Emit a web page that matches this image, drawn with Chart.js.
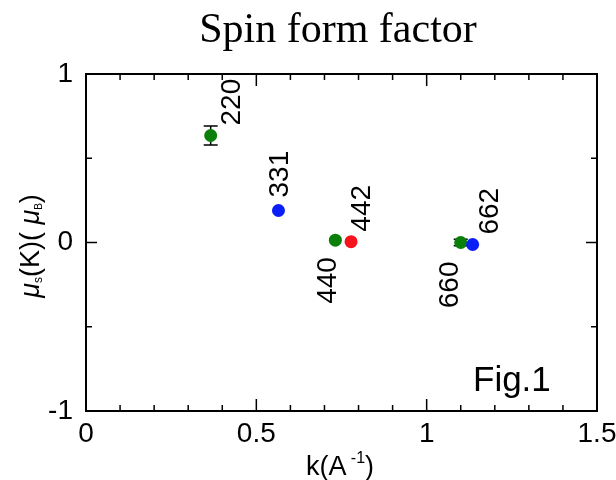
<!DOCTYPE html>
<html lang="en">

<head>
    <meta charset="UTF-8">
    <title>Spin form factor</title>
    <script src="https://cdn.jsdelivr.net/npm/chart.js"></script>
    <style>
        html, body { margin: 0; padding: 0; background: #fff; }
        #holder { width: 616px; height: 480px; position: relative; }
    </style>
</head>

<body>
    <div id="holder">
        <canvas id="chart1"></canvas>
    </div>

    <script>
        // Data
        const kValues = [0.366, 0.565, 0.732, 0.778, 1.100, 1.135];
        const muValues = [0.635, 0.19, 0.014, 0.005, 0.0, -0.012];
        const muErrors = [0.057, 0, 0, 0, 0.02, 0];
        const reflections = ['220', '331', '440', '442', '660', '662'];
        const pointColors = ['#0a7f0a', '#0a1ef5', '#0a7f0a', '#f5141e', '#0a7f0a', '#0a1ef5'];
        const xTickLabels = ['0', '0.5', '1', '1.5'];
        const yTickLabels = ['-1', '0', '1'];

        // label placement: dx = centre offset in px, gap = distance of the near end from the point
        const labelPlace = [
            { dx: 19, gap: 10, above: true },
            { dx: 0, gap: 13, above: true },
            { dx: -9, gap: 17, above: false },
            { dx: 9, gap: 10, above: true },
            { dx: -13, gap: 19, above: false },
            { dx: 15, gap: 10, above: true }
        ];

        const sans = '"Liberation Sans", Arial, Helvetica, sans-serif';
        const serif = '"Liberation Serif", "Times New Roman", serif';

        // draw text made of runs: [text, font, yShift]
        function runsWidth(ctx, runs) {
            let w = 0;
            runs.forEach(r => { ctx.font = r[1]; w += ctx.measureText(r[0]).width; });
            return w;
        }
        function drawRuns(ctx, runs, x, y) {
            let cx = x;
            runs.forEach(r => {
                ctx.font = r[1];
                ctx.fillText(r[0], cx, y + r[2]);
                cx += ctx.measureText(r[0]).width;
            });
        }

        // error bars behind points
        const errorBars = {
            id: 'errorBars',
            beforeDatasetsDraw(chart) {
                const ctx = chart.ctx;
                const xs = chart.scales.x, ys = chart.scales.y;
                ctx.save();
                ctx.strokeStyle = '#000';
                ctx.lineWidth = 1.5;
                kValues.forEach((k, i) => {
                    if (!muErrors[i]) return;
                    const px = xs.getPixelForValue(k);
                    const y1 = ys.getPixelForValue(muValues[i] + muErrors[i]);
                    const y2 = ys.getPixelForValue(muValues[i] - muErrors[i]);
                    ctx.beginPath();
                    ctx.moveTo(px, y1); ctx.lineTo(px, y2);
                    ctx.moveTo(px - 7, y1); ctx.lineTo(px + 7, y1);
                    ctx.moveTo(px - 7, y2); ctx.lineTo(px + 7, y2);
                    ctx.stroke();
                });
                ctx.restore();
            }
        };

        // frame, inward ticks, titles, labels
        const decorations = {
            id: 'decorations',
            afterDraw(chart) {
                const ctx = chart.ctx;
                const a = chart.chartArea;
                const xs = chart.scales.x, ys = chart.scales.y;
                ctx.save();
                ctx.strokeStyle = '#000';
                ctx.lineWidth = 2;
                ctx.strokeRect(a.left, a.top, a.right - a.left, a.bottom - a.top);

                ctx.lineWidth = 1.5;
                ctx.beginPath();
                for (let i = 0; i <= 15; i++) {
                    const px = xs.getPixelForValue(i / 10);
                    const len = (i % 5 === 0) ? 12 : 6;
                    ctx.moveTo(px, a.bottom); ctx.lineTo(px, a.bottom - len);
                    ctx.moveTo(px, a.top); ctx.lineTo(px, a.top + len);
                }
                for (let j = -2; j <= 2; j++) {
                    const py = ys.getPixelForValue(j / 2);
                    const len = (j % 2 === 0) ? 11 : 6;
                    ctx.moveTo(a.left, py); ctx.lineTo(a.left + len, py);
                    ctx.moveTo(a.right, py); ctx.lineTo(a.right - len, py);
                }
                ctx.stroke();

                ctx.fillStyle = '#000';
                ctx.textBaseline = 'alphabetic';

                // title
                ctx.font = '42px ' + serif;
                ctx.textAlign = 'center';
                ctx.fillText('Spin form factor', 338, 42);

                // Fig.1
                ctx.font = '35px ' + sans;
                ctx.textAlign = 'left';
                ctx.fillText('Fig.1', 473, 391);

                // x axis title  k(A^-1)
                const xr = [
                    ['k(A', '27px ' + sans, 0],
                    [' -1', '16px ' + sans, -12],
                    [')', '27px ' + sans, 0]
                ];
                ctx.textAlign = 'left';
                drawRuns(ctx, xr, 340 - runsWidth(ctx, xr) / 2, 475);

                // y axis title  mu_s(K)( mu_B)
                const yr = [
                    ['\u03bc', 'italic 27px ' + sans, 0],
                    ['s', '12px ' + sans, 3],
                    ['(K)( ', '27px ' + sans, 0],
                    ['\u03bc', 'italic 27px ' + sans, 0],
                    ['B', '10px ' + sans, 3],
                    [')', '27px ' + sans, 0]
                ];
                ctx.save();
                ctx.translate(39, 246);
                ctx.rotate(-Math.PI / 2);
                drawRuns(ctx, yr, -runsWidth(ctx, yr) / 2, 0);
                ctx.restore();

                // reflection labels, rotated (read bottom to top)
                ctx.font = '28px ' + sans;
                ctx.textBaseline = 'alphabetic';
                reflections.forEach((lab, i) => {
                    const p = labelPlace[i];
                    const px = xs.getPixelForValue(kValues[i]) + p.dx;
                    const py = ys.getPixelForValue(muValues[i]) + (p.above ? -p.gap : p.gap);
                    ctx.save();
                    ctx.translate(px, py);
                    ctx.rotate(-Math.PI / 2);
                    ctx.textAlign = p.above ? 'left' : 'right';
                    ctx.fillText(lab, 0, 10);
                    ctx.restore();
                });
                ctx.restore();
            }
        };

        const canvas1 = document.getElementById('chart1');
        const chart1 = new Chart(canvas1.getContext('2d'), {
            type: 'scatter',
            data: {
                datasets: [{
                    data: kValues.map((k, i) => ({ x: k, y: muValues[i] })),
                    pointBackgroundColor: pointColors,
                    pointBorderColor: pointColors,
                    pointBorderWidth: 0,
                    pointRadius: 6.5,
                    pointHoverRadius: 6.5
                }]
            },
            options: {
                responsive: true,
                maintainAspectRatio: false,
                animation: false,
                events: [],
                layout: { padding: { top: 74, right: 19, left: 0, bottom: 0 } },
                plugins: {
                    legend: { display: false },
                    tooltip: { enabled: false }
                },
                scales: {
                    x: {
                        type: 'linear',
                        min: 0, max: 1.5,
                        grid: { display: false, drawTicks: false },
                        border: { display: false },
                        ticks: {
                            stepSize: 0.5,
                            padding: 6,
                            color: '#000',
                            font: { family: sans, size: 28 },
                            maxRotation: 0,
                            callback: (v, i) => xTickLabels[i]
                        },
                        afterFit(scale) {
                            scale.height = 69;
                            scale.paddingLeft = 0;
                            scale.paddingRight = 0;
                        }
                    },
                    y: {
                        type: 'linear',
                        min: -1, max: 1,
                        grid: { display: false, drawTicks: false },
                        border: { display: false },
                        ticks: {
                            stepSize: 1,
                            padding: 13,
                            color: '#000',
                            font: { family: sans, size: 28 },
                            callback: (v, i) => yTickLabels[i]
                        },
                        afterFit(scale) {
                            scale.width = 86;
                            scale.paddingTop = 0;
                            scale.paddingBottom = 0;
                        }
                    }
                }
            },
            plugins: [errorBars, decorations]
        });
    </script>
</body>

</html>
